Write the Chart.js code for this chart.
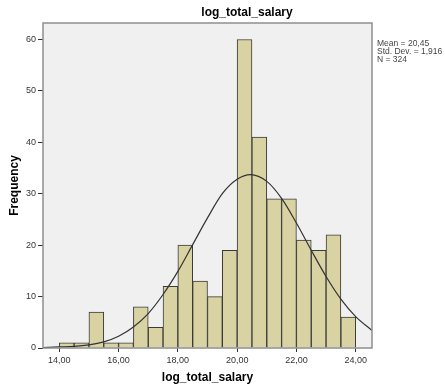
<!DOCTYPE html>
<html>
<head>
<meta charset="utf-8">
<script src="https://cdn.jsdelivr.net/npm/chart.js@4/dist/chart.umd.min.js"></script>
<style>
  html, body { margin: 0; padding: 0; background: #fff; }
  #wrap { position: relative; width: 445px; height: 391px; }
</style>
</head>
<body>
<div id="wrap"><canvas id="histChart" width="445" height="391"></canvas></div>
<script>
// Bin centres (width 0.5) and counts
const binCenters = [14.25, 14.75, 15.25, 15.75, 16.25, 16.75, 17.25, 17.75, 18.25, 18.75,
                    19.25, 19.75, 20.25, 20.75, 21.25, 21.75, 22.25, 22.75, 23.25, 23.75];
const binCounts = [1, 1, 7, 1, 1, 8, 4, 12, 20, 13, 10, 19, 60, 41, 29, 29, 21, 19, 22, 6];

// Normal curve
const curveX = [13.45, 14, 14.5, 15, 15.5, 16, 16.5, 17, 17.5, 18, 18.5, 19, 19.5, 20, 20.45,
                21, 21.5, 22, 22.5, 23, 23.5, 24, 24.55];
const curveY = [0.1, 0.2, 0.3, 0.6, 1.2, 2.3, 4.1, 6.7, 10.4, 14.9, 20.1, 25.3, 30.0, 32.8, 33.7,
                32.4, 29.1, 24.3, 19.0, 13.9, 9.5, 6.1, 3.4];

const xTicks = [14, 16, 18, 20, 22, 24];
const xTickLabels = ['14,00', '16,00', '18,00', '20,00', '22,00', '24,00'];
const yTicks = [0, 10, 20, 30, 40, 50, 60];

const statLines = ['Mean = 20,45', 'Std. Dev. = 1,916', 'N = 324'];

const FONT = 'Arial, "Liberation Sans", sans-serif';

// Plot background, frame, chart title and the stats box
const decorPlugin = {
    id: 'decor',
    beforeDraw(chart) {
        const { ctx, chartArea: a } = chart;
        ctx.save();
        ctx.fillStyle = '#f0f0f0';
        ctx.fillRect(a.left, a.top, a.right - a.left, a.bottom - a.top);
        ctx.restore();
    },
    afterDraw(chart) {
        const { ctx, chartArea: a } = chart;
        ctx.save();
        ctx.strokeStyle = '#8f8f8f';
        ctx.lineWidth = 1.5;
        ctx.strokeRect(a.left, a.top, a.right - a.left, a.bottom - a.top);

        ctx.fillStyle = '#000';
        ctx.font = 'bold 12px ' + FONT;
        ctx.textAlign = 'center';
        ctx.textBaseline = 'middle';
        ctx.fillText('log_total_salary', 247, 13);

        ctx.fillStyle = '#444';
        ctx.font = '8.5px ' + FONT;
        ctx.textAlign = 'left';
        statLines.forEach((t, i) => ctx.fillText(t, a.right + 5, 44 + i * 7.6));
        ctx.restore();
    }
};

new Chart(document.getElementById('histChart'), {
    data: {
        datasets: [{
            type: 'line',
            data: curveX.map((x, i) => ({ x: x, y: curveY[i] })),
            borderColor: '#333',
            borderWidth: 1.2,
            pointRadius: 0,
            fill: false,
            cubicInterpolationMode: 'monotone',
            order: 0
        }, {
            type: 'bar',
            data: binCenters.map((x, i) => ({ x: x, y: binCounts[i] })),
            backgroundColor: '#d9d3a3',
            borderColor: '#3a3a3a',
            borderWidth: 1,
            barPercentage: 1,
            categoryPercentage: 1,
            order: 1
        }]
    },
    options: {
        responsive: false,
        animation: false,
        layout: { padding: { left: 0, right: 73, top: 23, bottom: 0 } },
        plugins: { legend: { display: false }, tooltip: { enabled: false } },
        scales: {
            x: {
                type: 'linear',
                offset: false,
                min: 13.45,
                max: 24.55,
                afterFit(s) { s.height = 43; },
                afterBuildTicks(s) { s.ticks = xTicks.map(v => ({ value: v })); },
                grid: { offset: false, drawOnChartArea: false, drawTicks: true, tickLength: 4, tickColor: '#333', color: '#333' },
                border: { display: false },
                ticks: {
                    autoSkip: false, maxRotation: 0, padding: 3, color: '#333',
                    font: { family: FONT, size: 9 },
                    callback: (v) => xTickLabels[xTicks.indexOf(v)]
                },
                title: {
                    display: true, text: 'log_total_salary', color: '#000',
                    font: { family: FONT, size: 12, weight: 'bold' },
                    padding: { top: 0, bottom: 6 }
                }
            },
            y: {
                min: 0,
                max: 63.2,
                afterFit(s) { s.width = 43; },
                afterBuildTicks(s) { s.ticks = yTicks.map(v => ({ value: v })); },
                grid: { drawOnChartArea: false, drawTicks: true, tickLength: 5, tickColor: '#333', color: '#333' },
                border: { display: false },
                ticks: {
                    padding: 2, color: '#333',
                    font: { family: FONT, size: 9 }
                },
                title: {
                    display: true, text: 'Frequency', color: '#000',
                    font: { family: FONT, size: 12, weight: 'bold' },
                    padding: { top: 7, bottom: 0 }
                }
            }
        }
    },
    plugins: [decorPlugin]
});
</script>
</body>
</html>
